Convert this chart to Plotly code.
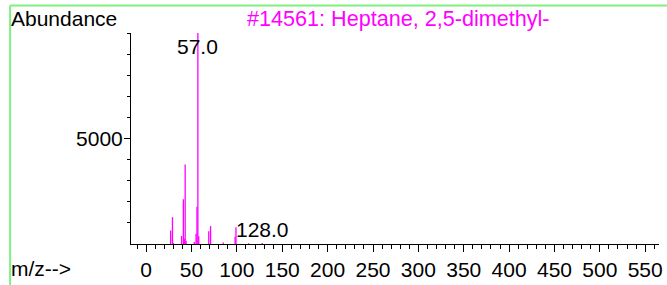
import plotly.graph_objects as go

# Mass spectrum peaks (m/z, abundance)
mz = [27, 29, 30, 39, 41, 42, 43, 44, 53, 55, 56, 57, 58, 69, 71, 85, 98, 99, 113, 128]
abundance = [640, 1270, 50, 380, 2120, 250, 3770, 150, 90, 480, 1770, 9999, 370, 600, 850, 70, 340, 790, 40, 50]

title_text = "#14561: Heptane, 2,5-dimethyl-"
labelled = [57, 128]

x_range = [-16.7, 565.2]
y_range = [0, 10000]
x_tickvals = list(range(0, 551, 50))
x_minor = list(range(-10, 566, 10))
y_tickvals = [5000]
y_minor = list(range(1000, 10001, 1000))

MAG = "#FF00FF"
FONT = "Liberation Sans, Arial, sans-serif"

# stick segments built from the data
xs, ys = [], []
for m, a in zip(mz, abundance):
    xs += [m, m, None]
    ys += [0, a, None]

fig = go.Figure()
fig.add_trace(go.Scatter(x=xs, y=ys, mode="lines",
                         line=dict(color=MAG, width=1.3),
                         hoverinfo="skip", showlegend=False))

for m, a in zip(mz, abundance):
    if m in labelled:
        top = a > 5000
        fig.add_annotation(x=m, y=a, text=f"{m:.1f}", showarrow=False,
                           xanchor="center",
                           yanchor="top" if top else "bottom",
                           font=dict(family=FONT, size=21, color="black"))

fig.add_annotation(xref="paper", yref="paper", x=-0.231, y=1.070,
                   text="Abundance", showarrow=False, xanchor="left", yanchor="middle",
                   font=dict(family=FONT, size=21, color="black"))
fig.add_annotation(xref="paper", yref="paper", x=-0.231, y=-0.117,
                   text="m/z-->", showarrow=False, xanchor="left", yanchor="middle",
                   font=dict(family=FONT, size=21, color="black"))
fig.add_annotation(xref="paper", yref="paper", x=0.506, y=1.070,
                   text=title_text, showarrow=False, xanchor="center", yanchor="middle",
                   font=dict(family=FONT, size=21.6, color=MAG))

# green frame lines
GREEN = "#80F080"
fig.add_shape(type="line", xref="paper", yref="paper", x0=-0.229, x1=1.2,
              y0=1.1308, y1=1.1308, line=dict(color=GREEN, width=2))
fig.add_shape(type="line", xref="paper", yref="paper", x0=-0.229, x1=-0.229,
              y0=1.1308, y1=-0.3, line=dict(color=GREEN, width=2))

fig.update_layout(
    width=667, height=285,
    margin=dict(l=131, r=4, t=33, b=38),
    paper_bgcolor="white", plot_bgcolor="white",
    font=dict(family=FONT, size=21, color="black"),
    showlegend=False,
)
fig.update_xaxes(range=x_range, tickmode="array", tickvals=x_tickvals,
                 ticktext=[str(v) for v in x_tickvals],
                 showgrid=False, zeroline=False, showline=True, linecolor="black", linewidth=1,
                 ticks="outside", ticklen=7, tickcolor="black", tickwidth=1,
                 tickfont=dict(family=FONT, size=21),
                 minor=dict(tickmode="array", tickvals=x_minor, ticks="outside", ticklen=4,
                            tickcolor="black", showgrid=False))
fig.update_yaxes(range=y_range, tickmode="array", tickvals=y_tickvals,
                 ticktext=[str(v) for v in y_tickvals],
                 showgrid=False, zeroline=False, showline=True, linecolor="black", linewidth=1,
                 ticks="outside", ticklen=6, tickcolor="black", tickwidth=1,
                 ticklabelstandoff=-3,
                 tickfont=dict(family=FONT, size=21),
                 minor=dict(tickmode="array", tickvals=y_minor, ticks="outside", ticklen=3,
                            tickcolor="black", showgrid=False))

fig.write_html("out.html", config={"displayModeBar": False},
               post_script="document.body.style.margin='0';")
